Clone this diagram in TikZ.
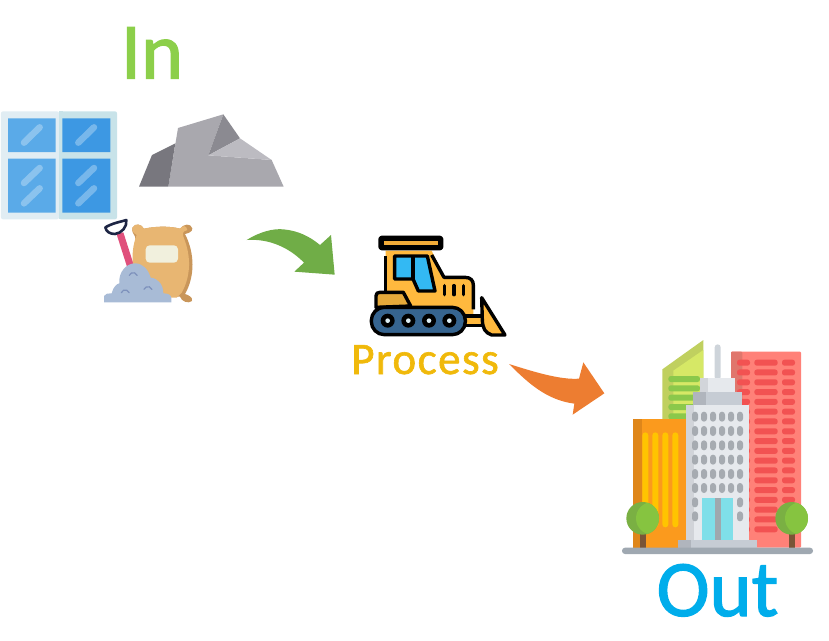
\documentclass[tikz,border=0pt]{standalone}
\usepackage{fontspec}
\setmainfont{Carlito}
\definecolor{inC}{HTML}{8CCF4A}
\definecolor{procC}{HTML}{F0B90B}
\definecolor{outC}{HTML}{00ADEB}
\definecolor{arrowG}{HTML}{70AD47}
\definecolor{arrowO}{HTML}{ED7D31}
\definecolor{dozer}{HTML}{FFB93E}
\definecolor{treeD}{RGB}{122,176,67}
\definecolor{treeL}{RGB}{134,196,64}
\definecolor{HTMLredw}{HTML}{F25252}
\definecolor{pileL}{RGB}{125,145,188}
\tikzset{
 lbl/.style={inner sep=0pt,anchor=base,font=#1},
 glare/.style={line cap=round,line width=6.5pt,color=white,opacity=.3},
 ink/.style={draw=black,line width=3.4pt,line join=round},
 redrow/.style={fill=HTMLredw,rounded corners=2.5pt},
 pilemark/.style={line width=1.2pt,line cap=round,draw=pileL},
}
\begin{document}
\begin{tikzpicture}[x=1pt,y=-1pt]
\useasboundingbox (0,0) rectangle (829,640);
% ---------- labels
\node[lbl={\fontsize{80}{80}\selectfont\addfontfeature{FakeBold=1.6}},text=inC] (in) at (152,78.5) {In};
\node[lbl={\fontsize{45}{45}\selectfont\addfontfeature{FakeBold=1.4,LetterSpace=3.3}},text=procC] (proc) at (425,374) {Process};
\node[lbl={\fontsize{80}{80}\selectfont\addfontfeature{FakeBold=1.6}},text=outC] (out) at (717.5,616) {Out};
% ---------- zoom-1 coordinates: window, rock, sack
\begin{scope}[scale=1/3]
 % window
 \fill[fill={rgb,255:red,225;green,237;blue,243},rounded corners=2pt] (3,334) rectangle (177,658);
 \fill[fill={rgb,255:red,200;green,227;blue,233},rounded corners=2pt] (177,334) rectangle (351,658);
 \fill[fill={rgb,255:red,200;green,227;blue,233}] (177,334) rectangle (190,658);
 \fill[fill={rgb,255:red,90;green,170;blue,232}] (24,355) rectangle (167,456) (24,476) rectangle (167,638);
 \fill[fill={rgb,255:red,61;green,152;blue,227}] (187,355) rectangle (331,456) (187,476) rectangle (331,638);
 \draw[glare] (72,428) -- (119,382);
 \draw[glare] (235,428) -- (282,382);
 \draw[glare] (72,549) -- (119,504);
 \draw[glare] (72,610) -- (119,565);
 \draw[glare] (235,549) -- (282,504);
 \draw[glare] (235,610) -- (282,565);
 % rock
 \fill[fill={rgb,255:red,169;green,168;blue,174}] (505,560) -- (534,384) -- (670,343) -- (625,466) -- (815,480) -- (851,560) -- cycle;
 \fill[fill={rgb,255:red,120;green,119;blue,126}] (417,560) -- (456,465) -- (526,430) -- (505,560) -- cycle;
 \fill[fill={rgb,255:red,139;green,138;blue,145}] (670,343) -- (720,415) -- (625,466) -- cycle;
 \fill[fill={rgb,255:red,188;green,187;blue,193}] (720,415) -- (815,480) -- (625,466) -- cycle;
 % shovel
 \draw[line width=7pt,draw={rgb,255:red,224;green,80;blue,124}] (360,700) -- (392,800);
 \draw[line width=2.6pt,line join=round,fill=white,draw={rgb,255:red,29;green,37;blue,68}] (316,682) .. controls (340,668) and (365,665) .. (379,660) .. controls (382,680) and (365,700) .. (345,702) .. controls (330,702) and (318,695) .. (316,682) -- cycle;
 % sack
 \fill[fill={rgb,255:red,201;green,150;blue,90}] (397,683) .. controls (405,668) and (425,672) .. (432,686) .. controls (470,678) and (510,678) .. (540,686) .. controls (550,672) and (572,668) .. (577,685) .. controls (578,695) and (565,700) .. (555,702) .. controls (585,760) and (585,830) .. (555,882) .. controls (565,885) and (580,892) .. (576,903) .. controls (565,912) and (545,905) .. (540,890) -- (440,890) -- (420,800) -- (405,710) .. controls (400,700) and (395,695) .. (397,683) -- cycle;
 \fill[fill={rgb,255:red,232;green,182;blue,114}] (397,683) .. controls (405,668) and (425,672) .. (432,686) .. controls (470,678) and (510,678) .. (540,686) .. controls (548,675) and (560,676) .. (562,690) .. controls (545,695) and (548,702) .. (550,710) .. controls (575,770) and (572,830) .. (545,878) -- (530,893) -- (440,893) -- (400,800) .. controls (395,770) and (398,735) .. (410,705) .. controls (400,698) and (395,695) .. (397,683) -- cycle;
 \fill[fill={rgb,255:red,241;green,240;blue,221},rounded corners=4pt] (437,736) rectangle (534,788);
 % pile
 \fill[fill={rgb,255:red,168;green,187;blue,214}] (312,907) -- (312,888) .. controls (315,880) and (325,880) .. (335,880) .. controls (340,860) and (350,852) .. (358,850) .. controls (355,815) and (380,790) .. (405,790) .. controls (430,790) and (445,810) .. (452,833) .. controls (475,835) and (490,855) .. (490,880) .. controls (505,880) and (514,885) .. (514,895) -- (514,907) -- cycle;
 \draw[pilemark] (388,826) arc[start angle=200,end angle=340,radius=12.5];
 \draw[pilemark] (432,868) arc[start angle=200,end angle=340,radius=12.5];
 \draw[pilemark] (364,878) arc[start angle=200,end angle=340,radius=12.5];
\end{scope}
% ---------- zoom-2 coordinates: green arrow, bulldozer
\begin{scope}[shift={(240,220)},scale=1/3]
 \fill[arrowG] (20,60) .. controls (60,35) and (100,25) .. (130,28) .. controls (175,32) and (210,50) .. (240,75) -- (273,45) -- (284,164) -- (163,155) -- (192,128) .. controls (150,85) and (90,55) .. (20,60) -- cycle;
 % body
 \path[fill=dozer] (437,92) -- (575,92) -- (612,172) -- (675,172) .. controls (692,172) and (700,182) .. (700,195) -- (700,285) -- (437,285) -- cycle;
 \draw[ink] (437,108) -- (437,215);
 \draw[ink] (575,105) -- (612,172) -- (675,172) .. controls (692,172) and (700,182) .. (700,195) -- (700,268);
 % roof
 \draw[ink,fill=black,rounded corners=2pt] (420,52) rectangle (605,86);
 \fill[fill={rgb,255:red,243;green,172;blue,56}] (431,63) rectangle (595,76);
 % windows
 \draw[ink,fill={rgb,255:red,51;green,185;blue,243}] (464,108) -- (562,108) -- (585,213) -- (535,213) -- (519,177) -- (464,177) -- cycle;
 \draw[ink] (519,108) -- (519,177);
 % vents
 \draw[ink,line cap=round] (614,197) -- (614,224);
 \draw[ink,line cap=round] (642,197) -- (642,224);
 \draw[ink,line cap=round] (670,197) -- (670,224);
 % hood
 \draw[ink,fill={rgb,255:red,229;green,169;blue,58}] (408,262) -- (408,228) .. controls (408,220) and (412,217) .. (420,217) -- (490,217) -- (512,258) -- (408,262) -- cycle;
 % blade arm
 \draw[ink,fill=dozer] (672,288) -- (730,288) -- (730,316) -- (672,316) -- cycle;
 % blade
 \draw[ink,fill=dozer] (725,233) -- (795,345) -- (755,345) .. controls (735,338) and (728,325) .. (727,300) -- cycle;
 % track
 \draw[ink,fill={rgb,255:red,54;green,100;blue,143},rounded corners=13pt] (394,262) rectangle (676,344);
 \foreach \wx in {443,505,567,628}{
   \fill[black] (\wx,302) circle[radius=21];
   \fill[fill={rgb,255:red,222;green,238;blue,243}] (\wx,302) circle[radius=7];
 }
\end{scope}
% ---------- zoom-3 coordinates: orange arrow, city
\begin{scope}[shift={(500,330)},scale=1/3]
 \fill[arrowO] (27,102) .. controls (100,125) and (180,150) .. (237,146) -- (250,97) -- (313,190) -- (218,254) -- (223,221) .. controls (140,210) and (85,160) .. (27,102) -- cycle;
 % green tower
 \fill[fill={rgb,255:red,192;green,208;blue,95}] (487,118) -- (610,30) -- (610,268) -- (487,268) -- cycle;
 \fill[fill={rgb,255:red,214;green,232;blue,102}] (520,122) -- (610,60) -- (610,268) -- (520,268) -- cycle;
 \foreach \ry in {138,166,194,222,250}
   \fill[fill={rgb,255:red,139;green,200;blue,75},rounded corners=2.5pt] (505,\ry) rectangle (600,\ry+18);
 % red tower
 \fill[fill={rgb,255:red,255;green,129;blue,120},rounded corners=1pt] (693,65) rectangle (903,653);
 \fill[fill={rgb,255:red,224;green,118;blue,108},rounded corners=1pt] (693,65) rectangle (727,230);
 \foreach \ry in {89,118.4,147.8,177.2,206.6,236,265.4,294.8,324.2,353.6,383,412.4,441.8,471.2,500.6,530,559.4,588.8}{
   \fill[redrow] (711,\ry) rectangle (750,\ry+18);
   \fill[redrow] (763,\ry) rectangle (833,\ry+18);
   \fill[redrow] (846,\ry) rectangle (885,\ry+18);
 }
 % orange tower
 \fill[fill={rgb,255:red,251;green,154;blue,29}] (400,268) rectangle (560,653);
 \fill[fill={rgb,255:red,223;green,134;blue,26}] (400,268) rectangle (425,653);
 \foreach \sx in {427,457,487,517}
   \fill[fill={rgb,255:red,255;green,196;blue,0},rounded corners=3pt] (\sx,307) rectangle (\sx+18,592);
 % antenna and grey tower
 \fill[fill={rgb,255:red,206;green,212;blue,218},rounded corners=3pt] (644,43) rectangle (662,150);
 \fill[fill={rgb,255:red,230;green,233;blue,237}] (600,143) rectangle (706,190);
 \fill[fill={rgb,255:red,210;green,213;blue,218}] (600,143) rectangle (625,190);
 \fill[fill={rgb,255:red,198;green,204;blue,212}] (580,187) rectangle (725,228);
 \fill[fill={rgb,255:red,176;green,181;blue,189}] (580,187) rectangle (618,228);
 \fill[fill={rgb,255:red,230;green,233;blue,237}] (558,225) rectangle (747,635);
 \fill[fill={rgb,255:red,209;green,212;blue,217}] (558,225) rectangle (583,635);
 \foreach \wy in {245,288,331,374,417,459}
  \foreach \wx in {576,603,630,657,684,711}
   \fill[fill={rgb,255:red,166;green,171;blue,177},rounded corners=3pt] (\wx,\wy) rectangle (\wx+18,\wy+30);
 \foreach \wy in {502,544}
  \foreach \wx in {576,711}
   \fill[fill={rgb,255:red,166;green,171;blue,177},rounded corners=3pt] (\wx,\wy) rectangle (\wx+18,\wy+30);
 % door
 \fill[fill={rgb,255:red,127;green,223;blue,233}] (606,503) rectangle (698,632);
 \fill[fill={rgb,255:red,159;green,168;blue,174}] (644,503) rectangle (662,632);
 % base
 \fill[fill={rgb,255:red,198;green,204;blue,212}] (533,630) rectangle (772,655);
 \fill[fill={rgb,255:red,176;green,181;blue,189}] (533,630) rectangle (573,655);
 % trees
 \fill[fill={rgb,255:red,122;green,84;blue,54}] (419,605) rectangle (438,655);
 \fill[fill={rgb,255:red,122;green,84;blue,54}] (866,605) rectangle (885,655);
 \foreach \tx in {428,875}{
  \fill[treeD] (\tx,565) circle[radius=49];
  \begin{scope}
   \clip (\tx,565) circle[radius=49];
   \fill[treeL] (\tx+29,565) circle[radius=49];
  \end{scope}
 }
 % ground
 \fill[fill={rgb,255:red,159;green,168;blue,177},rounded corners=3pt] (366,653) rectangle (939,672);
\end{scope}
\end{tikzpicture}
\end{document}
